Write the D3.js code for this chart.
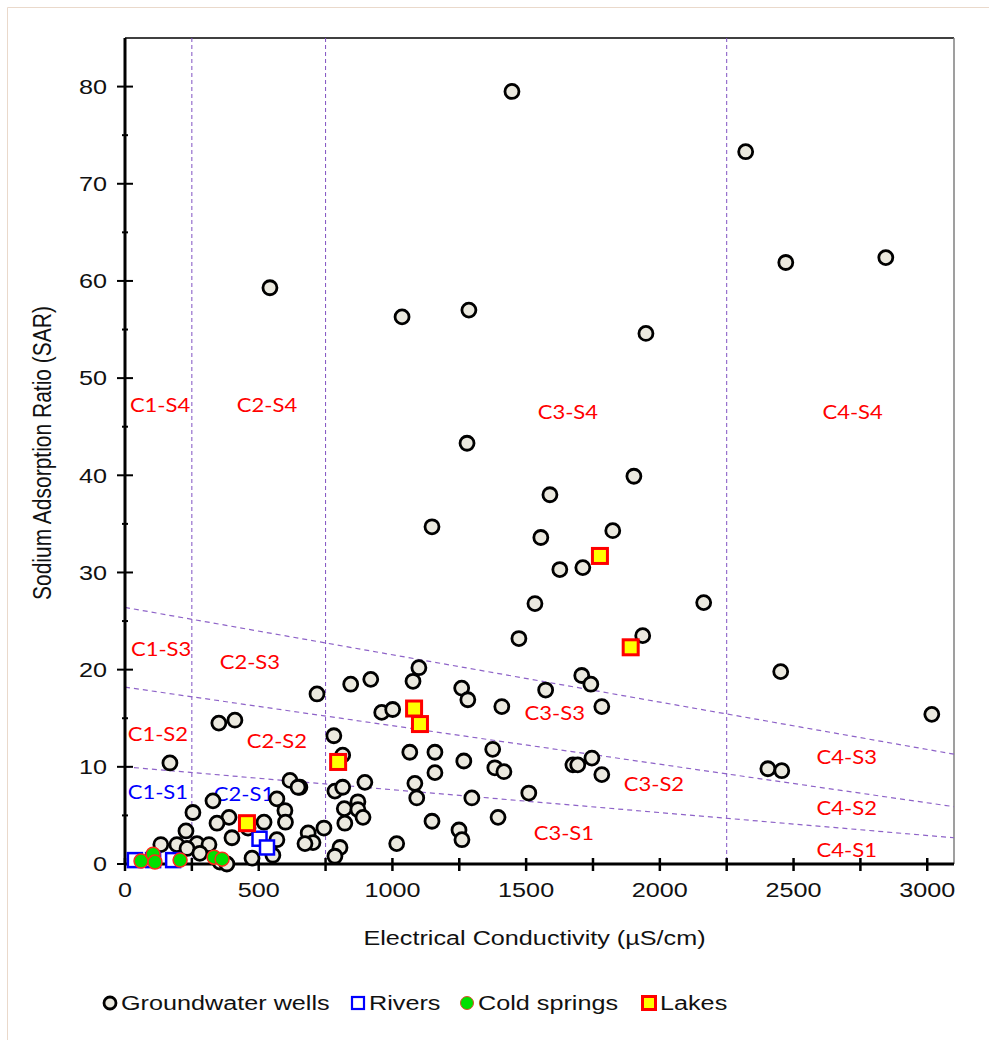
<!DOCTYPE html>
<html>
<head>
<meta charset="utf-8">
<script src="https://cdn.jsdelivr.net/npm/d3@7"></script>
<style>
  body { margin: 0; background: #fff; }
  svg { display: block; }
  text { font-family: 'Liberation Sans', Arial, sans-serif; font-size: 21px; fill: #111; }
  .zone { font-family: Lato, 'Open Sans', sans-serif; font-size: 20px; }
</style>
</head>
<body>
<script>
// ---------- data (EC in µS/cm, SAR) ----------
const wells = [
  [1447, 79.5], [2321, 73.3], [2471, 61.9], [2845, 62.4], [542, 59.3], [1036, 56.3],
  [1286, 57.0], [1948, 54.6], [1279, 43.3], [1903, 39.9], [1589, 38.0], [1148, 34.7],
  [1824, 34.3], [1555, 33.6], [1712, 30.5], [1626, 30.3], [1533, 26.8], [2164, 26.9],
  [1936, 23.5], [1473, 23.2], [2452, 19.8], [3017, 15.4], [1708, 19.4], [1742, 18.5],
  [1573, 17.9], [1783, 16.2], [718, 17.5], [844, 18.5], [919, 19.0], [1099, 20.2],
  [1077, 18.8], [1259, 18.1], [1282, 16.9], [1409, 16.2], [960, 15.6], [1001, 15.9],
  [781, 13.2], [814, 11.2], [1065, 11.5], [1159, 11.5], [1267, 10.6], [1375, 11.8],
  [1383, 9.9], [1417, 9.5], [1159, 9.4], [654, 7.9], [617, 8.6], [785, 7.5],
  [814, 7.9], [897, 8.4], [1084, 8.3], [1091, 6.8], [1297, 6.8], [1510, 7.3],
  [871, 6.4], [820, 5.7], [871, 5.6], [890, 4.8], [822, 4.2], [744, 3.7],
  [685, 3.2], [703, 2.2], [673, 2.1], [804, 1.7], [785, 0.8], [1016, 2.1],
  [1148, 4.4], [1249, 3.5], [1260, 2.5], [1395, 4.8], [1675, 10.2], [1693, 10.2],
  [1746, 10.9], [1783, 9.2], [2404, 9.8], [2456, 9.6], [168, 10.4], [351, 14.5],
  [411, 14.8], [254, 5.3], [329, 6.5], [568, 6.7], [598, 5.5], [600, 4.3],
  [520, 4.3], [568, 2.5], [389, 4.8], [344, 4.2], [400, 2.7], [228, 3.4],
  [134, 2.0], [194, 2.0], [269, 2.1], [314, 2.0], [232, 1.6], [280, 1.1],
  [355, 0.2], [381, 0.0], [475, 0.6], [553, 0.9], [647, 7.9], [460, 3.7]
]
const rivers = [[37, 0.4], [105, 0.4], [180, 0.4], [503, 2.6], [531, 1.7]]
const springs = [[60, 0.3], [105, 1.0], [112, 0.2], [206, 0.4], [333, 0.7], [363, 0.5]]
const lakes = [[456, 4.2], [797, 10.5], [1081, 16.0], [1103, 14.4], [1776, 31.7], [1891, 22.3]]

// class boundaries
const ecBounds = [250, 750, 2250]
const sarLines = [
  [[0, 10.0], [3100, 2.7]],
  [[0, 18.2], [3100, 5.9]],
  [[0, 26.4], [3100, 11.3]]
]
const zoneLabels = [
  ['C1-S4', 131, 47.3], ['C2-S4', 531, 47.3], ['C3-S4', 1656, 46.6], ['C4-S4', 2721, 46.6],
  ['C1-S3', 135, 22.2], ['C2-S3', 467, 20.9], ['C3-S3', 1607, 15.6], ['C4-S3', 2699, 11.1],
  ['C1-S2', 123, 13.5], ['C2-S2', 568, 12.8], ['C3-S2', 1978, 8.3], ['C4-S2', 2699, 5.9],
  ['C1-S1', 123, 7.5], ['C2-S1', 445, 7.3], ['C3-S1', 1641, 3.3], ['C4-S1', 2699, 1.6]
]
const blueZones = ['C1-S1', 'C2-S1']

const xTicks = [0, 500, 1000, 1500, 2000, 2500, 3000]
const yTicks = [0, 10, 20, 30, 40, 50, 60, 70, 80]
const seriesNames = ['Groundwater wells', 'Rivers', 'Cold springs', 'Lakes']

// the original figure is a little wider than tall, text looks stretched
const SX = 1.2

// ---------- layout ----------
const margin = { top: 38, right: 35, bottom: 176, left: 125 },
    width = 989 - margin.left - margin.right,
    height = 1040 - margin.top - margin.bottom

const root = d3.select('body').append('svg')
    .attr('width', 989)
    .attr('height', 1040)

// faint page frame
root.append('path')
    .attr('d', 'M7.5,1040 V7.5 H989')
    .attr('fill', 'none')
    .attr('stroke', '#ead9cb')
    .attr('stroke-width', 1)

const svg = root.append('g')
    .attr('transform', 'translate(' + margin.left + ',' + margin.top + ')')

const x = d3.scaleLinear().domain([0, 3100]).range([0, width])
const y = d3.scaleLinear().domain([0, 85]).range([height, 0])

function place(px, py, sx) {
    return 'translate(' + px + ',' + py + ') scale(' + sx + ',1)'
}

// frame top / right
svg.append('line').attr('x1', 0).attr('x2', width).attr('y1', 0).attr('y2', 0)
    .attr('stroke', '#000').attr('stroke-width', 1.5)
svg.append('line').attr('x1', width).attr('x2', width).attr('y1', 0).attr('y2', height)
    .attr('stroke', '#7f7f7f').attr('stroke-width', 1.5)

// boundaries
svg.selectAll('.ecb')
    .data(ecBounds)
    .enter().append('line')
    .attr('x1', d => x(d)).attr('x2', d => x(d))
    .attr('y1', 0).attr('y2', height)
    .attr('stroke', '#8052c2')
    .attr('stroke-width', 1)
    .attr('stroke-dasharray', '4,3')

const line = d3.line().x(d => x(d[0])).y(d => y(d[1]))
svg.selectAll('.sarb')
    .data(sarLines)
    .enter().append('path')
    .attr('d', line)
    .attr('fill', 'none')
    .attr('stroke', '#8e63c8')
    .attr('stroke-width', 1.2)
    .attr('stroke-dasharray', '5,4')

// zone labels
svg.selectAll('.zone')
    .data(zoneLabels)
    .enter().append('text')
    .attr('class', 'zone')
    .attr('transform', d => place(x(d[1]), y(d[2]), 1.1))
    .attr('text-anchor', 'middle')
    .attr('dominant-baseline', 'central')
    .style('fill', d => blueZones.includes(d[0]) ? '#0000ff' : '#ff0000')
    .text(d => d[0])

// axes
const yAxis = svg.append('g')
yAxis.append('line').attr('x1', 0).attr('x2', 0).attr('y1', 0).attr('y2', height)
    .attr('stroke', '#000').attr('stroke-width', 3)
yAxis.selectAll('.minor')
    .data(d3.range(5, 85, 10))
    .enter().append('line')
    .attr('x1', -3).attr('x2', 3)
    .attr('y1', d => y(d)).attr('y2', d => y(d))
    .attr('stroke', '#000').attr('stroke-width', 2)
yAxis.selectAll('.major')
    .data(yTicks)
    .enter().append('line')
    .attr('x1', -8).attr('x2', 8)
    .attr('y1', d => y(d)).attr('y2', d => y(d))
    .attr('stroke', '#000').attr('stroke-width', 2)
yAxis.selectAll('.ylab')
    .data(yTicks)
    .enter().append('text')
    .attr('transform', d => place(-18, y(d), SX))
    .attr('text-anchor', 'end')
    .attr('dominant-baseline', 'central')
    .text(d => d)

const xAxis = svg.append('g').attr('transform', 'translate(0,' + height + ')')
xAxis.append('line').attr('x1', 0).attr('x2', width).attr('y1', 0).attr('y2', 0)
    .attr('stroke', '#000').attr('stroke-width', 3)
xAxis.selectAll('.xt')
    .data(d3.range(0, 3001, 250))
    .enter().append('line')
    .attr('x1', d => x(d)).attr('x2', d => x(d))
    .attr('y1', -6).attr('y2', 7)
    .attr('stroke', '#000').attr('stroke-width', 2.5)
xAxis.selectAll('.xlab')
    .data(xTicks)
    .enter().append('text')
    .attr('transform', d => place(x(d), 26, SX))
    .attr('text-anchor', 'middle')
    .attr('dominant-baseline', 'central')
    .text(d => d)

// axis titles
svg.append('text')
    .attr('transform', 'translate(' + (-83) + ',' + (height / 2 + 2) + ') rotate(-90) scale(1,' + SX + ')')
    .attr('text-anchor', 'middle')
    .attr('dominant-baseline', 'central')
    .text('Sodium Adsorption Ratio (SAR)')

svg.append('text')
    .attr('transform', place(x(1550) - 5, height + 74, SX))
    .attr('text-anchor', 'middle')
    .attr('dominant-baseline', 'central')
    .text('Electrical Conductivity (µS/cm)')

// ---------- points ----------
svg.append('g').selectAll('circle')
    .data(wells)
    .enter().append('circle')
    .attr('cx', d => x(d[0]))
    .attr('cy', d => y(d[1]))
    .attr('r', 7)
    .attr('fill', '#ebe9df')
    .attr('stroke', '#000')
    .attr('stroke-width', 2.8)

svg.append('g').selectAll('rect')
    .data(rivers)
    .enter().append('rect')
    .attr('x', d => x(d[0]) - 7)
    .attr('y', d => y(d[1]) - 7)
    .attr('width', 14)
    .attr('height', 14)
    .attr('fill', '#fff')
    .attr('stroke', '#0000ff')
    .attr('stroke-width', 2.5)

svg.append('g').selectAll('circle')
    .data(springs)
    .enter().append('circle')
    .attr('cx', d => x(d[0]))
    .attr('cy', d => y(d[1]))
    .attr('r', 7)
    .attr('fill', '#00e000')
    .attr('stroke', '#ff2a1a')
    .attr('stroke-width', 1.5)

svg.append('g').selectAll('rect')
    .data(lakes)
    .enter().append('rect')
    .attr('x', d => x(d[0]) - 7.5)
    .attr('y', d => y(d[1]) - 7.5)
    .attr('width', 15)
    .attr('height', 15)
    .attr('fill', '#ffff00')
    .attr('stroke', '#ff0000')
    .attr('stroke-width', 3)

// ---------- legend ----------
const legendX = [110, 358, 467, 649]
const legend = root.append('g').attr('transform', 'translate(0,1003)')
legend.append('circle').attr('cx', legendX[0]).attr('cy', 0).attr('r', 6)
    .attr('fill', '#ebe9df').attr('stroke', '#000').attr('stroke-width', 2.8)
legend.append('rect').attr('x', legendX[1] - 6).attr('y', -6).attr('width', 12).attr('height', 12)
    .attr('fill', '#fff').attr('stroke', '#0000ff').attr('stroke-width', 2.2)
legend.append('circle').attr('cx', legendX[2]).attr('cy', 0).attr('r', 6.5)
    .attr('fill', '#00e000').attr('stroke', '#e04a2a').attr('stroke-width', 1)
legend.append('rect').attr('x', legendX[3] - 6.5).attr('y', -6.5).attr('width', 13).attr('height', 13)
    .attr('fill', '#ffff00').attr('stroke', '#ff0000').attr('stroke-width', 3)

legend.selectAll('text')
    .data(seriesNames)
    .enter().append('text')
    .attr('transform', (d, i) => place(legendX[i] + 11, 0, SX))
    .attr('dominant-baseline', 'central')
    .text(d => d)
</script>
</body>
</html>
